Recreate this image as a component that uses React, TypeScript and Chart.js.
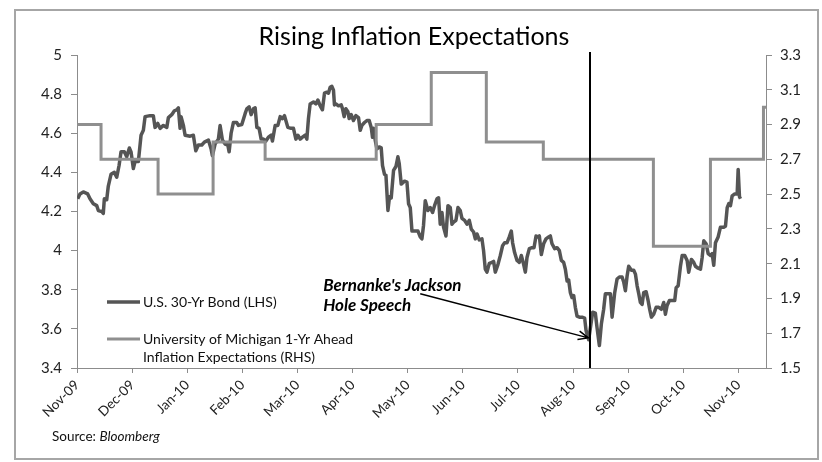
import React, { useEffect, useRef } from "react";
import { Chart, registerables } from "chart.js";

Chart.register(...registerables);

// Month tick labels (x positions are months since start of Nov-09)
const monthLabels = ["Nov-09", "Dec-09", "Jan-10", "Feb-10", "Mar-10", "Apr-10", "May-10", "Jun-10", "Jul-10", "Aug-10", "Sep-10", "Oct-10", "Nov-10"];

// U.S. 30-Yr Bond yield (LHS): observation position (months) and yield (%)
const bondPos = [
  0.013, 0.054, 0.114, 0.194, 0.236, 0.296, 0.358, 0.387, 0.448, 0.477,
  0.496, 0.539, 0.568, 0.617, 0.677, 0.721, 0.763, 0.799, 0.859, 0.902,
  0.950, 0.980, 1.022, 1.053, 1.113, 1.162, 1.204, 1.235, 1.325, 1.385,
  1.416, 1.465, 1.507, 1.567, 1.629, 1.658, 1.719, 1.767, 1.810, 1.839,
  1.870, 1.888, 1.930, 1.961, 2.052, 2.111, 2.155, 2.202, 2.264, 2.311,
  2.384, 2.433, 2.456, 2.505, 2.565, 2.596, 2.638, 2.687, 2.736, 2.760,
  2.796, 2.838, 2.899, 2.928, 2.990, 3.050, 3.081, 3.123, 3.159, 3.201,
  3.232, 3.263, 3.304, 3.341, 3.382, 3.426, 3.473, 3.522, 3.546, 3.595,
  3.644, 3.686, 3.727, 3.764, 3.825, 3.885, 3.927, 3.971, 4.007, 4.049,
  4.090, 4.139, 4.170, 4.199, 4.230, 4.290, 4.334, 4.370, 4.412, 4.453,
  4.490, 4.533, 4.562, 4.593, 4.624, 4.653, 4.671, 4.697, 4.744, 4.793,
  4.817, 4.847, 4.878, 4.915, 4.938, 4.975, 5.016, 5.060, 5.107, 5.138,
  5.169, 5.216, 5.260, 5.301, 5.338, 5.361, 5.379, 5.410, 5.441, 5.483,
  5.519, 5.543, 5.579, 5.605, 5.641, 5.670, 5.701, 5.743, 5.786, 5.822,
  5.846, 5.882, 5.942, 5.986, 6.015, 6.046, 6.077, 6.137, 6.186, 6.227,
  6.258, 6.287, 6.318, 6.367, 6.409, 6.451, 6.487, 6.531, 6.560, 6.590,
  6.621, 6.650, 6.694, 6.730, 6.772, 6.803, 6.832, 6.875, 6.912, 6.953,
  6.984, 7.032, 7.075, 7.117, 7.153, 7.195, 7.226, 7.257, 7.298, 7.347,
  7.376, 7.407, 7.438, 7.480, 7.529, 7.558, 7.589, 7.638, 7.680, 7.721,
  7.758, 7.801, 7.843, 7.879, 7.903, 7.939, 7.983, 8.025, 8.061, 8.103,
  8.134, 8.164, 8.206, 8.255, 8.291, 8.328, 8.364, 8.388, 8.424, 8.466,
  8.509, 8.557, 8.587, 8.618, 8.666, 8.709, 8.751, 8.787, 8.829, 8.860,
  8.891, 8.920, 8.951, 8.981, 9.011, 9.041, 9.072, 9.114, 9.163, 9.210,
  9.236, 9.283, 9.355, 9.404, 9.435, 9.477, 9.513, 9.555, 9.586, 9.646,
  9.677, 9.708, 9.755, 9.798, 9.840, 9.889, 9.918, 9.949, 9.980, 10.009,
  10.058, 10.100, 10.131, 10.162, 10.191, 10.221, 10.252, 10.281, 10.325, 10.361,
  10.390, 10.421, 10.463, 10.507, 10.554, 10.603, 10.644, 10.675, 10.706, 10.748,
  10.797, 10.844, 10.870, 10.906, 10.948, 10.979, 11.026, 11.069, 11.098, 11.147,
  11.189, 11.220, 11.269, 11.311, 11.342, 11.371, 11.414, 11.451, 11.492, 11.523,
  11.552, 11.583, 11.632, 11.674, 11.734, 11.765, 11.796, 11.825, 11.855, 11.886,
  11.933, 11.977, 11.995, 12.019, 12.037,
];
const bondYield = [
  4.265, 4.29, 4.30, 4.29, 4.265, 4.24, 4.23, 4.205, 4.20, 4.19,
  4.265, 4.26, 4.33, 4.39, 4.40, 4.375, 4.435, 4.505, 4.505, 4.48,
  4.525, 4.505, 4.42, 4.455, 4.455, 4.59, 4.615, 4.685, 4.69, 4.69,
  4.63, 4.65, 4.625, 4.64, 4.63, 4.68, 4.695, 4.715, 4.72, 4.73,
  4.625, 4.685, 4.64, 4.59, 4.585, 4.59, 4.51, 4.54, 4.54, 4.555,
  4.565, 4.52, 4.485, 4.545, 4.57, 4.64, 4.565, 4.545, 4.54, 4.505,
  4.60, 4.655, 4.655, 4.64, 4.645, 4.70, 4.725, 4.735, 4.695, 4.725,
  4.73, 4.63, 4.625, 4.57, 4.57, 4.56, 4.58, 4.59, 4.56, 4.64,
  4.64, 4.685, 4.675, 4.69, 4.63, 4.625, 4.625, 4.57, 4.59, 4.57,
  4.58, 4.59, 4.57, 4.675, 4.75, 4.76, 4.75, 4.77, 4.74, 4.72,
  4.805, 4.81, 4.805, 4.835, 4.84, 4.82, 4.745, 4.75, 4.74, 4.745,
  4.725, 4.685, 4.725, 4.71, 4.675, 4.695, 4.665, 4.69, 4.68, 4.615,
  4.64, 4.655, 4.665, 4.665, 4.63, 4.58, 4.625, 4.565, 4.52, 4.53,
  4.525, 4.435, 4.39, 4.385, 4.205, 4.275, 4.27, 4.41, 4.43, 4.48,
  4.445, 4.34, 4.355, 4.35, 4.24, 4.22, 4.10, 4.10, 4.10, 4.07,
  4.06, 4.13, 4.255, 4.205, 4.22, 4.195, 4.23, 4.265, 4.27, 4.135,
  4.195, 4.12, 4.075, 4.23, 4.22, 4.135, 4.145, 4.155, 4.22, 4.205,
  4.165, 4.155, 4.135, 4.155, 4.11, 4.095, 4.06, 4.085, 4.055, 4.06,
  4.00, 3.905, 3.89, 3.935, 3.94, 3.945, 3.89, 3.93, 3.975, 4.025,
  4.04, 4.04, 4.07, 4.10, 4.04, 3.99, 3.95, 3.94, 3.975, 3.93,
  3.89, 3.965, 4.01, 4.015, 4.015, 4.075, 4.07, 4.075, 3.98, 4.035,
  4.06, 4.07, 4.075, 4.035, 4.01, 4.015, 4.00, 3.95, 3.94, 3.905,
  3.845, 3.85, 3.785, 3.76, 3.77, 3.71, 3.665, 3.66, 3.66, 3.655,
  3.59, 3.545, 3.685, 3.68, 3.605, 3.515, 3.625, 3.70, 3.78, 3.78,
  3.78, 3.66, 3.785, 3.855, 3.865, 3.865, 3.84, 3.795, 3.87, 3.92,
  3.90, 3.90, 3.88, 3.82, 3.78, 3.735, 3.725, 3.785, 3.79, 3.745,
  3.70, 3.66, 3.675, 3.71, 3.71, 3.70, 3.735, 3.675, 3.72, 3.745,
  3.745, 3.745, 3.81, 3.82, 3.92, 3.975, 3.975, 3.95, 3.89, 3.955,
  3.94, 3.92, 3.91, 3.905, 3.965, 4.05, 4.035, 3.985, 3.975, 3.985,
  3.925, 4.04, 4.07, 4.12, 4.12, 4.125, 4.22, 4.24, 4.23, 4.28,
  4.29, 4.29, 4.415, 4.275, 4.265,
];

// University of Michigan 1-Yr Ahead Inflation Expectations (RHS): release positions and values
const michiganPos = [0, 0.436, 1.471, 2.469, 3.413, 5.428, 6.427, 7.426, 8.460, 10.457, 11.492, 12.454, 12.5];
const michiganVal = [2.9, 2.7, 2.5, 2.8, 2.7, 2.9, 3.2, 2.8, 2.7, 2.2, 2.7, 3.0, 3.0];

// Jackson Hole speech marker and annotation anchors (x in months, y in LHS %)
const speechPos = 9.305;
const arrowFrom = [6.227, 3.78];
const arrowTo = [9.277, 3.554];
const noteAnchor = [4.466, 3.82];
const noteLines = ["Bernanke's Jackson", "Hole Speech"];

const bondLabel = "U.S. 30-Yr Bond (LHS)";
const michiganLabel = ["University of Michigan 1-Yr Ahead", "Inflation Expectations (RHS)"];
const titleText = "Rising Inflation Expectations";

const FONT = "Lato, 'Open Sans', sans-serif";
const BOND_COLOR = "#555555";
const MICH_COLOR = "#8f8f8f";

const overlay = {
  id: "overlay",
  beforeDraw(chart: any) {
    const { ctx, width, height } = chart;
    ctx.save();
    ctx.fillStyle = "#ffffff";
    ctx.fillRect(0, 0, width, height);
    ctx.restore();
  },
  afterDatasetsDraw(chart: any) {
    const { ctx, chartArea, scales } = chart;
    const sx = scales.x;
    const sy = scales.y;
    ctx.save();
    // vertical speech line
    const vx = Math.round(sx.getPixelForValue(speechPos));
    ctx.strokeStyle = "#000";
    ctx.lineWidth = 2;
    ctx.beginPath();
    ctx.moveTo(vx, chartArea.top - 3);
    ctx.lineTo(vx, chartArea.bottom);
    ctx.stroke();
    // arrow
    const x0 = sx.getPixelForValue(arrowFrom[0]);
    const y0 = sy.getPixelForValue(arrowFrom[1]);
    const x1 = sx.getPixelForValue(arrowTo[0]);
    const y1 = sy.getPixelForValue(arrowTo[1]);
    ctx.lineWidth = 1.5;
    ctx.beginPath();
    ctx.moveTo(x0, y0);
    ctx.lineTo(x1, y1);
    const ang = Math.atan2(y1 - y0, x1 - x0);
    const L = 11;
    ctx.moveTo(x1 - L * Math.cos(ang - 0.4), y1 - L * Math.sin(ang - 0.4));
    ctx.lineTo(x1, y1);
    ctx.lineTo(x1 - L * Math.cos(ang + 0.4), y1 - L * Math.sin(ang + 0.4));
    ctx.stroke();
    // annotation text
    const tx = sx.getPixelForValue(noteAnchor[0]);
    const ty = sy.getPixelForValue(noteAnchor[1]);
    ctx.fillStyle = "#000";
    ctx.font = `italic bold 17px ${FONT}`;
    ctx.textAlign = "left";
    ctx.textBaseline = "middle";
    noteLines.forEach((t, i) => ctx.fillText(t, tx, ty + i * 20));
    ctx.restore();
  },
  afterDraw(chart: any) {
    const { ctx, chartArea } = chart;
    ctx.save();
    // frame
    ctx.strokeStyle = "#a6a6a6";
    ctx.lineWidth = 2;
    ctx.strokeRect(15, 10, 803, 449);
    // title
    ctx.fillStyle = "#000";
    ctx.font = `25px ${FONT}`;
    ctx.textAlign = "center";
    ctx.textBaseline = "alphabetic";
    ctx.fillText(titleText, 414, 45);
    // legend
    const lx = chartArea.left + 30;
    ctx.lineWidth = 3.5;
    ctx.strokeStyle = BOND_COLOR;
    ctx.beginPath();
    ctx.moveTo(lx, 302);
    ctx.lineTo(lx + 33, 302);
    ctx.stroke();
    ctx.lineWidth = 3;
    ctx.strokeStyle = MICH_COLOR;
    ctx.beginPath();
    ctx.moveTo(lx, 339);
    ctx.lineTo(lx + 33, 339);
    ctx.stroke();
    ctx.fillStyle = "#111";
    ctx.font = `14px ${FONT}`;
    ctx.textAlign = "left";
    ctx.textBaseline = "middle";
    ctx.fillText(bondLabel, lx + 36, 302);
    ctx.fillText(michiganLabel[0], lx + 36, 339);
    ctx.fillText(michiganLabel[1], lx + 36, 357);
    // source
    ctx.font = `13.5px ${FONT}`;
    ctx.fillText("Source: ", 52, 437);
    const w = ctx.measureText("Source: ").width;
    ctx.font = `italic 13.5px ${FONT}`;
    ctx.fillText("Bloomberg", 52 + w, 437);
    ctx.restore();
  },
};

export default function App() {
  const ref = useRef<HTMLCanvasElement>(null);
  useEffect(() => {
    const canvas = ref.current;
    if (!canvas) return;
    const tickFont = { family: FONT, size: 15 };
    const chart = new Chart(canvas, {
      type: "line",
      data: {
        datasets: [
          {
            label: michiganLabel.join(" "),
            data: michiganPos.map((x, i) => ({ x, y: michiganVal[i] })),
            yAxisID: "y1",
            borderColor: MICH_COLOR,
            borderWidth: 3,
            pointRadius: 0,
            stepped: true,
            order: 0,
          },
          {
            label: bondLabel,
            data: bondPos.map((x, i) => ({ x, y: bondYield[i] })),
            yAxisID: "y",
            borderColor: BOND_COLOR,
            borderWidth: 3.5,
            pointRadius: 0,
            tension: 0,
            borderJoinStyle: "round",
            order: 1,
          },
        ],
      } as any,
      options: {
        responsive: false,
        animation: false,
        devicePixelRatio: 1,
        layout: { padding: { top: 55, left: 0, right: 0, bottom: 0 } },
        plugins: { legend: { display: false }, tooltip: { enabled: false }, title: { display: false } },
        scales: {
          x: {
            type: "linear",
            position: "bottom",
            min: 0,
            max: 12.5,
            afterFit: (s: any) => { s.height = 94; },
            grid: { display: true, drawOnChartArea: false, drawTicks: true, tickLength: 5, color: "#8c8c8c" },
            border: { color: "#8c8c8c", width: 1 },
            ticks: {
              stepSize: 1,
              autoSkip: false,
              includeBounds: false,
              minRotation: 45,
              maxRotation: 45,
              padding: 4,
              color: "#222",
              font: { family: FONT, size: 13.5 },
              callback: (v: any) => monthLabels[Math.round(v)] ?? "",
            },
          },
          y: {
            type: "linear",
            position: "left",
            min: 3.4,
            max: 5,
            afterFit: (s: any) => { s.width = 77; },
            grid: { display: true, drawOnChartArea: false, drawTicks: true, tickLength: 6, color: "#8c8c8c" },
            border: { color: "#8c8c8c", width: 1 },
            ticks: {
              stepSize: 0.2,
              padding: 9,
              color: "#222",
              font: tickFont,
              callback: (v: any) => String(parseFloat(Number(v).toFixed(1))),
            },
          },
          y1: {
            type: "linear",
            position: "right",
            min: 1.5,
            max: 3.3,
            afterFit: (s: any) => { s.width = 56; },
            grid: { display: true, drawOnChartArea: false, drawTicks: true, tickLength: 6, color: "#8c8c8c" },
            border: { color: "#8c8c8c", width: 1 },
            ticks: {
              stepSize: 0.2,
              padding: 8,
              color: "#222",
              font: tickFont,
              callback: (v: any) => Number(v).toFixed(1),
            },
          },
        },
      } as any,
      plugins: [overlay],
    });
    return () => chart.destroy();
  }, []);
  return (
    <div style={{ position: "fixed", left: 0, top: 0, width: 822, height: 462, background: "#fff" }}>
      <canvas ref={ref} width={822} height={462} style={{ display: "block", width: 822, height: 462 }} />
    </div>
  );
}
